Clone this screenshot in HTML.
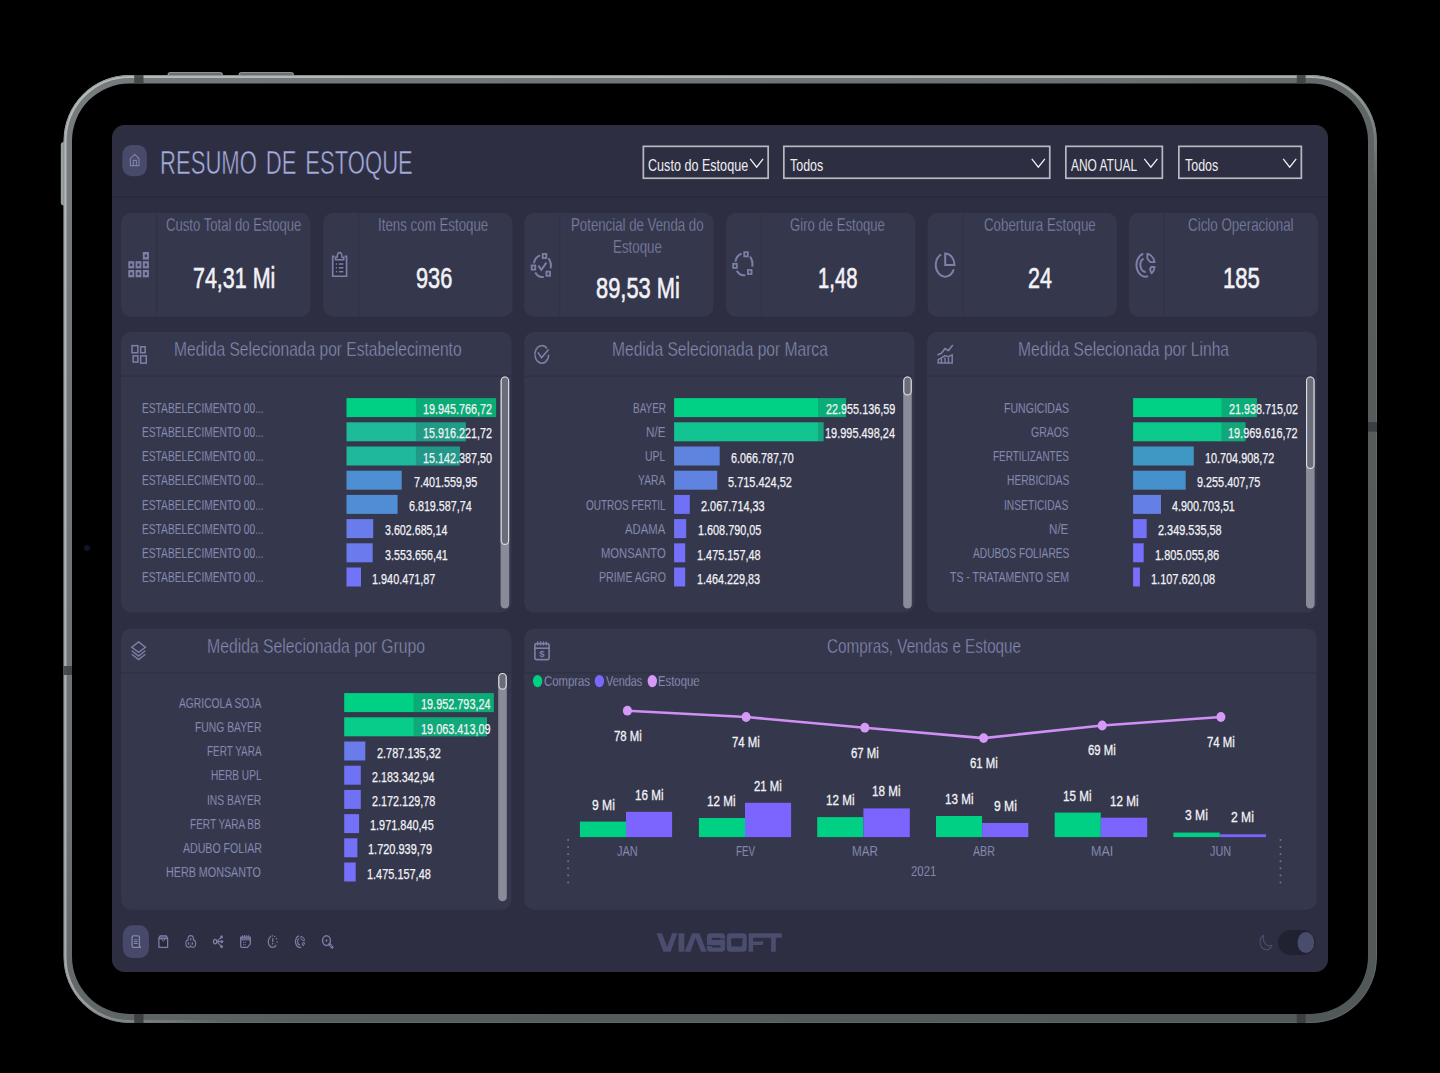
<!DOCTYPE html>
<html><head><meta charset="utf-8"><title>Resumo de Estoque</title>
<style>
html,body{margin:0;padding:0;background:#000;}
body{width:1440px;height:1073px;position:relative;overflow:hidden;font-family:"Liberation Sans",sans-serif;}
.a{position:absolute;}
.t{position:absolute;white-space:pre;font-family:"Liberation Sans",sans-serif;transform-origin:0 0;}
.card{position:absolute;background:#35374c;border-radius:10px;}
.bar{position:absolute;height:19px;}
.lb{position:absolute;height:19px;background:rgba(45,47,66,0.22);}
svg{position:absolute;overflow:visible;}
</style></head><body>
<svg width="1440" height="1073" style="left:0;top:0" viewBox="0 0 1440 1073">
<defs>
<linearGradient id="fg" x1="0" y1="0" x2="1" y2="1">
<stop offset="0" stop-color="#767c7d"/><stop offset="0.4" stop-color="#6c7273"/><stop offset="0.6" stop-color="#575c5d"/><stop offset="1" stop-color="#525758"/>
</linearGradient>
<linearGradient id="hl" x1="0" y1="0" x2="1" y2="1">
<stop offset="0" stop-color="#b6babb" stop-opacity="1"/><stop offset="0.48" stop-color="#b0b4b5" stop-opacity="0.9"/><stop offset="0.56" stop-color="#b0b4b5" stop-opacity="0"/><stop offset="1" stop-color="#b0b4b5" stop-opacity="0"/>
</linearGradient>
<clipPath id="ring"><path clip-rule="evenodd" d="M129.5,75H1311A66,66 0 0 1 1377,141V957A66,66 0 0 1 1311,1023H129.5A66,66 0 0 1 63.5,957V141A66,66 0 0 1 129.5,75Z M129.5,83.5A57.5,57.5 0 0 0 72,141V956.5A57.5,57.5 0 0 0 129.5,1014H1310.5A57.5,57.5 0 0 0 1368,956.5V141A57.5,57.5 0 0 0 1310.5,83.5Z"/></clipPath>
</defs>
<!-- side buttons -->
<rect x="167.5" y="72" width="55.5" height="6" rx="3" fill="#8e9495"/>
<rect x="238.5" y="72" width="55.5" height="6" rx="3" fill="#8e9495"/>
<rect x="169" y="73.2" width="52.5" height="1.6" rx="0.8" fill="#5f6566"/>
<rect x="240" y="73.2" width="52.5" height="1.6" rx="0.8" fill="#5f6566"/>
<rect x="60.8" y="142" width="6" height="63.5" rx="3" fill="#9aa0a1"/>
<path fill="url(#fg)" fill-rule="evenodd" d="M129.5,75H1311A66,66 0 0 1 1377,141V957A66,66 0 0 1 1311,1023H129.5A66,66 0 0 1 63.5,957V141A66,66 0 0 1 129.5,75Z M129.5,83.5A57.5,57.5 0 0 0 72,141V956.5A57.5,57.5 0 0 0 129.5,1014H1310.5A57.5,57.5 0 0 0 1368,956.5V141A57.5,57.5 0 0 0 1310.5,83.5Z"/>
<g clip-path="url(#ring)">
<rect x="65" y="76.5" width="1310.5" height="945" rx="64.5" fill="none" stroke="url(#hl)" stroke-width="3"/>
<rect x="64" y="75.5" width="1312.5" height="947" rx="65.5" fill="none" stroke="#707475" stroke-opacity="0.55" stroke-width="1"/>
<!-- antenna bands -->
<rect x="134.2" y="74" width="9.3" height="11" fill="#3e4243" opacity="0.92"/>
<rect x="1296.8" y="74" width="8.8" height="11" fill="#3e4243" opacity="0.92"/>
<rect x="134.2" y="1013" width="9.3" height="11" fill="#3a3e3f" opacity="0.95"/>
<rect x="1296.8" y="1013" width="8.8" height="11" fill="#3a3e3f" opacity="0.95"/>
<rect x="62" y="666" width="11" height="9" fill="#3e4243" opacity="0.9"/>
<rect x="1367" y="422" width="11" height="9.7" fill="#3a3e3f" opacity="0.95"/>
</g>
<circle cx="87" cy="548" r="3.2" fill="#0b111d"/>
<circle cx="87" cy="548" r="1.5" fill="#121c30"/>
</svg><svg width="1440" height="1073" style="left:0;top:0" viewBox="0 0 1440 1073">
<rect x="112.00" y="125.00" width="1216.00" height="847.00" rx="12.5" fill="#2d2e41"/>
<rect x="112.00" y="196.30" width="1216.00" height="1.50" fill="#292a3b"/>
<rect x="122.3" y="144.9" width="24.6" height="31.3" rx="9" ry="10" fill="#484a6a"/>
<rect x="643.35" y="146.35" width="124.80" height="31.90" fill="none" stroke="#b9b9c3" stroke-width="1.7"/>
<rect x="783.85" y="146.35" width="265.90" height="31.90" fill="none" stroke="#b9b9c3" stroke-width="1.7"/>
<rect x="1065.85" y="146.35" width="96.50" height="31.90" fill="none" stroke="#b9b9c3" stroke-width="1.7"/>
<rect x="1178.85" y="146.35" width="122.50" height="31.90" fill="none" stroke="#b9b9c3" stroke-width="1.7"/>
<rect x="121.20" y="212.70" width="189.40" height="104.00" rx="10" fill="#35374c"/>
<rect x="156.20" y="212.70" width="1.00" height="104.00" fill="#303246"/>
<rect x="323.20" y="212.70" width="189.40" height="104.00" rx="10" fill="#35374c"/>
<rect x="358.20" y="212.70" width="1.00" height="104.00" fill="#303246"/>
<rect x="524.20" y="212.70" width="189.40" height="104.00" rx="10" fill="#35374c"/>
<rect x="559.20" y="212.70" width="1.00" height="104.00" fill="#303246"/>
<rect x="726.00" y="212.70" width="189.40" height="104.00" rx="10" fill="#35374c"/>
<rect x="761.00" y="212.70" width="1.00" height="104.00" fill="#303246"/>
<rect x="927.60" y="212.70" width="189.40" height="104.00" rx="10" fill="#35374c"/>
<rect x="962.60" y="212.70" width="1.00" height="104.00" fill="#303246"/>
<rect x="1128.80" y="212.70" width="189.40" height="104.00" rx="10" fill="#35374c"/>
<rect x="1163.80" y="212.70" width="1.00" height="104.00" fill="#303246"/>
<rect x="121.20" y="331.80" width="390.30" height="280.70" rx="10" fill="#35374c"/><rect x="121.20" y="375.50" width="390.30" height="1.50" fill="#2f3145"/>
<rect x="524.20" y="331.80" width="390.30" height="280.70" rx="10" fill="#35374c"/><rect x="524.20" y="375.50" width="390.30" height="1.50" fill="#2f3145"/>
<rect x="927.20" y="331.80" width="389.50" height="280.70" rx="10" fill="#35374c"/><rect x="927.20" y="375.50" width="389.50" height="1.50" fill="#2f3145"/>
<rect x="121.20" y="628.40" width="390.30" height="281.30" rx="10" fill="#35374c"/><rect x="121.20" y="672.00" width="390.30" height="1.50" fill="#2f3145"/>
<rect x="524.20" y="628.40" width="792.40" height="281.30" rx="10" fill="#35374c"/><rect x="524.20" y="672.00" width="792.40" height="1.50" fill="#2f3145"/>
<rect x="346.50" y="398.10" width="149.60" height="19.00" fill="#00d084"/>
<rect x="415.90" y="398.10" width="80.20" height="19.00" fill="rgb(45,47,66)" fill-opacity="0.22"/>
<rect x="346.50" y="422.30" width="119.40" height="19.00" fill="#1dbb99"/>
<rect x="415.90" y="422.30" width="50.00" height="19.00" fill="rgb(45,47,66)" fill-opacity="0.22"/>
<rect x="346.50" y="446.50" width="113.40" height="19.00" fill="#1fb89d"/>
<rect x="415.90" y="446.50" width="44.00" height="19.00" fill="rgb(45,47,66)" fill-opacity="0.22"/>
<rect x="346.50" y="470.70" width="55.20" height="19.00" fill="#4e8fd3"/>
<rect x="346.50" y="494.90" width="51.10" height="19.00" fill="#508dd5"/>
<rect x="346.50" y="519.10" width="26.70" height="19.00" fill="#6a7bec"/>
<rect x="346.50" y="543.30" width="26.20" height="19.00" fill="#6b7aed"/>
<rect x="346.50" y="567.50" width="14.50" height="19.00" fill="#7173f8"/>
<rect x="674.10" y="398.10" width="171.90" height="19.00" fill="#00d184"/>
<rect x="818.00" y="398.10" width="28.00" height="19.00" fill="rgb(45,47,66)" fill-opacity="0.22"/>
<rect x="674.10" y="422.30" width="149.50" height="19.00" fill="#12c48f"/>
<rect x="818.00" y="422.30" width="5.60" height="19.00" fill="rgb(45,47,66)" fill-opacity="0.22"/>
<rect x="674.10" y="446.50" width="45.60" height="19.00" fill="#5f84e0"/>
<rect x="674.10" y="470.70" width="43.10" height="19.00" fill="#6083e1"/>
<rect x="674.10" y="494.90" width="15.70" height="19.00" fill="#7071f6"/>
<rect x="674.10" y="519.10" width="12.10" height="19.00" fill="#7370f8"/>
<rect x="674.10" y="543.30" width="11.10" height="19.00" fill="#7470f9"/>
<rect x="674.10" y="567.50" width="11.10" height="19.00" fill="#7470f9"/>
<rect x="1133.10" y="398.10" width="123.80" height="19.00" fill="#00d184"/>
<rect x="1221.50" y="398.10" width="35.40" height="19.00" fill="rgb(45,47,66)" fill-opacity="0.22"/>
<rect x="1133.10" y="422.30" width="112.40" height="19.00" fill="#0bca8c"/>
<rect x="1221.50" y="422.30" width="24.00" height="19.00" fill="rgb(45,47,66)" fill-opacity="0.22"/>
<rect x="1133.10" y="446.50" width="60.70" height="19.00" fill="#3f98c4"/>
<rect x="1133.10" y="470.70" width="52.60" height="19.00" fill="#4691cc"/>
<rect x="1133.10" y="494.90" width="27.90" height="19.00" fill="#647fe6"/>
<rect x="1133.10" y="519.10" width="13.60" height="19.00" fill="#7271f7"/>
<rect x="1133.10" y="543.30" width="10.60" height="19.00" fill="#7570fa"/>
<rect x="1133.10" y="567.50" width="6.80" height="19.00" fill="#7a6efc"/>
<rect x="344.20" y="693.10" width="149.60" height="19.00" fill="#00d084"/>
<rect x="413.60" y="693.10" width="80.20" height="19.00" fill="rgb(45,47,66)" fill-opacity="0.22"/>
<rect x="344.20" y="717.30" width="142.80" height="19.00" fill="#08cc89"/>
<rect x="413.60" y="717.30" width="73.40" height="19.00" fill="rgb(45,47,66)" fill-opacity="0.22"/>
<rect x="344.20" y="741.50" width="21.10" height="19.00" fill="#6a7bec"/>
<rect x="344.20" y="765.70" width="16.60" height="19.00" fill="#7072f5"/>
<rect x="344.20" y="789.90" width="16.60" height="19.00" fill="#7072f5"/>
<rect x="344.20" y="814.10" width="14.90" height="19.00" fill="#7271f7"/>
<rect x="344.20" y="838.30" width="13.20" height="19.00" fill="#7470f9"/>
<rect x="344.20" y="862.50" width="11.50" height="19.00" fill="#766ffb"/>
<rect x="500.60" y="376.40" width="8.60" height="232.20" rx="4.3" fill="#8a8b99"/><rect x="501.20" y="377.00" width="7.40" height="167.40" rx="3.7" fill="#6b6c79" stroke="#dcdce2" stroke-width="1.15"/>
<rect x="903.20" y="376.40" width="8.60" height="232.20" rx="4.3" fill="#8a8b99"/><rect x="903.80" y="377.00" width="7.40" height="17.90" rx="3.7" fill="#6b6c79" stroke="#dcdce2" stroke-width="1.15"/>
<rect x="1306.00" y="376.40" width="8.60" height="232.20" rx="4.3" fill="#8a8b99"/><rect x="1306.60" y="377.00" width="7.40" height="91.40" rx="3.7" fill="#6b6c79" stroke="#dcdce2" stroke-width="1.15"/>
<rect x="498.20" y="672.90" width="8.60" height="228.30" rx="4.3" fill="#8a8b99"/><rect x="498.80" y="673.50" width="7.40" height="15.60" rx="3.7" fill="#6b6c79" stroke="#dcdce2" stroke-width="1.15"/>
<rect x="579.90" y="821.60" width="46.10" height="15.50" fill="#00d084"/>
<rect x="626.00" y="811.80" width="46.10" height="25.30" fill="#7c64ff"/>
<rect x="698.90" y="818.00" width="46.10" height="19.10" fill="#00d084"/>
<rect x="745.00" y="802.80" width="46.10" height="34.30" fill="#7c64ff"/>
<rect x="817.20" y="817.10" width="46.20" height="20.00" fill="#00d084"/>
<rect x="863.40" y="808.40" width="46.40" height="28.70" fill="#7c64ff"/>
<rect x="936.00" y="816.00" width="46.10" height="21.10" fill="#00d084"/>
<rect x="982.10" y="823.00" width="46.20" height="14.10" fill="#7c64ff"/>
<rect x="1054.70" y="812.60" width="46.10" height="24.50" fill="#00d084"/>
<rect x="1100.80" y="817.70" width="46.40" height="19.40" fill="#7c64ff"/>
<rect x="1173.40" y="832.60" width="46.40" height="4.50" fill="#00d084"/>
<rect x="1219.80" y="834.30" width="46.10" height="2.80" fill="#7c64ff"/>
<polyline points="627.4,710.7 746.1,717 864.8,727.7 983.6,738.1 1102.2,725.5 1220.9,717" fill="none" stroke="#d08ff5" stroke-width="2.6" stroke-linejoin="round"/><ellipse cx="627.4" cy="710.7" rx="4.5" ry="4.9" fill="#d59af7"/><ellipse cx="746.1" cy="717" rx="4.5" ry="4.9" fill="#d59af7"/><ellipse cx="864.8" cy="727.7" rx="4.5" ry="4.9" fill="#d59af7"/><ellipse cx="983.6" cy="738.1" rx="4.5" ry="4.9" fill="#d59af7"/><ellipse cx="1102.2" cy="725.5" rx="4.5" ry="4.9" fill="#d59af7"/><ellipse cx="1220.9" cy="717" rx="4.5" ry="4.9" fill="#d59af7"/><ellipse cx="537.6" cy="681.1" rx="4.7" ry="6.2" fill="#00d084"/><ellipse cx="599.4" cy="681.1" rx="4.7" ry="6.2" fill="#7b68ff"/><ellipse cx="652.3" cy="681.1" rx="4.7" ry="6.2" fill="#d59af7"/><rect x="567.25" y="839.1" width="1.7" height="1.7" fill="#70749a"/><rect x="567.25" y="846.2" width="1.7" height="1.7" fill="#70749a"/><rect x="567.25" y="853.3" width="1.7" height="1.7" fill="#70749a"/><rect x="567.25" y="860.4" width="1.7" height="1.7" fill="#70749a"/><rect x="567.25" y="867.5" width="1.7" height="1.7" fill="#70749a"/><rect x="567.25" y="874.5" width="1.7" height="1.7" fill="#70749a"/><rect x="567.25" y="881.6" width="1.7" height="1.7" fill="#70749a"/><rect x="1279.65" y="839.1" width="1.7" height="1.7" fill="#70749a"/><rect x="1279.65" y="846.2" width="1.7" height="1.7" fill="#70749a"/><rect x="1279.65" y="853.3" width="1.7" height="1.7" fill="#70749a"/><rect x="1279.65" y="860.4" width="1.7" height="1.7" fill="#70749a"/><rect x="1279.65" y="867.5" width="1.7" height="1.7" fill="#70749a"/><rect x="1279.65" y="874.5" width="1.7" height="1.7" fill="#70749a"/><rect x="1279.65" y="881.6" width="1.7" height="1.7" fill="#70749a"/>
<rect x="122.8" y="925.3" width="26.2" height="32.7" rx="9" ry="10.5" fill="#47496a"/>
<rect x="1278.00" y="930.10" width="37.30" height="24.80" rx="12.4" fill="#212231"/>
<ellipse cx="1305.9" cy="942.5" rx="8.4" ry="10.5" fill="#4a4c6c"/>
</svg>
<svg width="1440" height="1073" style="left:0;top:0" viewBox="0 0 1440 1073"><path d="M130.40,165.60 L130.40,158.50 L134.70,154.30 L139.00,158.50 L139.00,165.60Z" fill="none" stroke="#7e81a8" stroke-width="1.15" stroke-linejoin="miter" stroke-linecap="butt"/><path d="M133.30,165.60 L133.30,160.40 L136.40,160.40 L136.40,165.60" fill="none" stroke="#7e81a8" stroke-width="1.15" stroke-linejoin="miter" stroke-linecap="butt"/><path d="M750.20,158.90 L756.65,167.20 L763.10,158.90" fill="none" stroke="#f0f0f5" stroke-width="1.3" stroke-linejoin="miter" stroke-linecap="butt"/><path d="M1031.80,158.90 L1038.35,167.20 L1044.90,158.90" fill="none" stroke="#f0f0f5" stroke-width="1.3" stroke-linejoin="miter" stroke-linecap="butt"/><path d="M1144.30,158.90 L1150.85,167.20 L1157.40,158.90" fill="none" stroke="#f0f0f5" stroke-width="1.3" stroke-linejoin="miter" stroke-linecap="butt"/><path d="M1283.20,158.90 L1289.70,167.20 L1296.20,158.90" fill="none" stroke="#f0f0f5" stroke-width="1.3" stroke-linejoin="miter" stroke-linecap="butt"/><rect x="142.8" y="252.0" width="6.10" height="7.60" fill="#7d80a6"/><rect x="144.80" y="254.50" width="2.1" height="2.6" fill="#33354a"/><rect x="128.3" y="261.2" width="5.90" height="7.20" fill="#7d80a6"/><rect x="130.20" y="263.50" width="2.1" height="2.6" fill="#33354a"/><rect x="135.6" y="261.2" width="5.80" height="7.20" fill="#7d80a6"/><rect x="137.45" y="263.50" width="2.1" height="2.6" fill="#33354a"/><rect x="142.8" y="261.2" width="6.10" height="7.20" fill="#7d80a6"/><rect x="144.80" y="263.50" width="2.1" height="2.6" fill="#33354a"/><rect x="128.3" y="270.0" width="5.90" height="7.30" fill="#7d80a6"/><rect x="130.20" y="272.35" width="2.1" height="2.6" fill="#33354a"/><rect x="135.6" y="270.0" width="5.80" height="7.30" fill="#7d80a6"/><rect x="137.45" y="272.35" width="2.1" height="2.6" fill="#33354a"/><rect x="142.8" y="270.0" width="6.10" height="7.30" fill="#7d80a6"/><rect x="144.80" y="272.35" width="2.1" height="2.6" fill="#33354a"/><rect x="334.1" y="261.2" width="10.9" height="13.4" fill="#2c2d41"/><path d="M334.60,256.40 L332.70,256.40 L332.70,276.20 L346.60,276.20 L346.60,256.40 L344.60,256.40" fill="none" stroke="#7d80a6" stroke-width="1.6" stroke-linejoin="miter" stroke-linecap="butt"/><path d="M335.5,259.8H343.7V257.3H342.0C342.0,253.6 341.3,252.4 339.6,252.4C337.9,252.4 337.2,253.6 337.2,257.3H335.5Z" fill="none" stroke="#7d80a6" stroke-width="1.5" stroke-linejoin="round"/><rect x="339.1" y="254.2" width="1.0" height="3.6" fill="#2c2d41"/><rect x="335.8" y="263.25" width="1.3" height="1.5" fill="#7d80a6"/><rect x="338.8" y="263.25" width="4.6" height="1.5" fill="#7d80a6"/><rect x="335.8" y="267.05" width="1.3" height="1.5" fill="#7d80a6"/><rect x="338.8" y="267.05" width="4.6" height="1.5" fill="#7d80a6"/><rect x="335.8" y="270.95" width="1.3" height="1.5" fill="#7d80a6"/><rect x="338.8" y="270.95" width="4.6" height="1.5" fill="#7d80a6"/><path d="M533.86,263.34A8.65,11.0 0 0 1 540.16,255.33" fill="none" stroke="#7d80a6" stroke-width="2.0" stroke-linecap="butt"/><path d="M548.47,258.36A8.65,11.0 0 0 1 550.71,268.29" fill="none" stroke="#7d80a6" stroke-width="2.0" stroke-linecap="butt"/><path d="M543.75,276.83A8.65,11.0 0 0 1 535.25,272.47" fill="none" stroke="#7d80a6" stroke-width="2.0" stroke-linecap="butt"/><rect x="542.70" y="253.95" width="3.60" height="4.10" fill="none" stroke="#7d80a6" stroke-width="1.8"/><rect x="531.65" y="265.50" width="3.60" height="4.10" fill="none" stroke="#7d80a6" stroke-width="1.8"/><rect x="546.40" y="271.65" width="3.60" height="4.10" fill="none" stroke="#7d80a6" stroke-width="1.8"/><path d="M538.35,265.60 L541.35,269.80 L546.45,262.60" fill="none" stroke="#7d80a6" stroke-width="1.9" stroke-linejoin="miter" stroke-linecap="butt"/><path d="M735.41,261.64A8.65,11.0 0 0 1 741.71,253.63" fill="none" stroke="#7d80a6" stroke-width="2.0" stroke-linecap="butt"/><path d="M750.02,256.66A8.65,11.0 0 0 1 752.26,266.59" fill="none" stroke="#7d80a6" stroke-width="2.0" stroke-linecap="butt"/><path d="M745.30,275.13A8.65,11.0 0 0 1 736.80,270.77" fill="none" stroke="#7d80a6" stroke-width="2.0" stroke-linecap="butt"/><rect x="744.25" y="252.25" width="3.60" height="4.10" fill="none" stroke="#7d80a6" stroke-width="1.8"/><rect x="733.20" y="263.80" width="3.60" height="4.10" fill="none" stroke="#7d80a6" stroke-width="1.8"/><rect x="747.95" y="269.95" width="3.60" height="4.10" fill="none" stroke="#7d80a6" stroke-width="1.8"/><path d="M953.72,269.35A9.3,11.6 0 1 1 941.17,254.49" fill="none" stroke="#7d80a6" stroke-width="2.0" stroke-linecap="butt"/><path d="M945.2,253.4V265.0H954.5A9.3,11.6 0 0 0 945.2,253.4Z" fill="none" stroke="#7d80a6" stroke-width="2" stroke-linejoin="miter"/><path d="M1148.08,276.15A9.0,11.6 0 1 1 1143.27,253.80" fill="none" stroke="#7d80a6" stroke-width="2.0" stroke-linecap="butt"/><path d="M1145.78,271.90A5.2,6.9 0 0 1 1143.57,258.65" fill="none" stroke="#7d80a6" stroke-width="2.0" stroke-linecap="butt"/><path d="M1147.30,253.60 L1147.30,258.40 L1150.30,262.20 L1154.60,262.20 L1153.60,258.80 L1150.80,255.30Z" fill="none" stroke="#7d80a6" stroke-width="1.8" stroke-linejoin="round" stroke-linecap="butt"/><path d="M1150.00,269.30 L1151.10,267.00 L1154.60,267.00 L1153.70,270.60 L1151.60,273.40Z" fill="none" stroke="#7d80a6" stroke-width="1.8" stroke-linejoin="round" stroke-linecap="butt"/><rect x="132.05" y="345.65" width="5.80" height="7.10" fill="none" stroke="#7d80a6" stroke-width="1.5"/><rect x="140.65" y="346.75" width="4.50" height="6.00" fill="none" stroke="#7d80a6" stroke-width="1.5"/><rect x="133.15" y="355.85" width="4.70" height="6.20" fill="none" stroke="#7d80a6" stroke-width="1.5"/><rect x="140.65" y="355.85" width="5.60" height="7.30" fill="none" stroke="#7d80a6" stroke-width="1.5"/><path d="M548.70,354.71A6.9,8.8 0 1 1 546.93,348.51" fill="none" stroke="#7d80a6" stroke-width="1.5" stroke-linecap="butt"/><path d="M537.80,352.40 L541.60,357.60 L548.60,349.50" fill="none" stroke="#7d80a6" stroke-width="1.6" stroke-linejoin="miter" stroke-linecap="butt"/><path d="M938.00,354.70 L941.40,353.30 L945.00,348.50 L948.30,350.70 L952.40,345.50" fill="none" stroke="#7d80a6" stroke-width="1.6" stroke-linejoin="round" stroke-linecap="round"/><path d="M938.20,363.00 L938.20,359.60 L941.20,358.10 L944.90,355.60 L948.40,356.60 L952.20,354.90 L952.20,363.00Z" fill="none" stroke="#7d80a6" stroke-width="1.5" stroke-linejoin="miter" stroke-linecap="butt"/><path d="M941.40,357.50 L941.40,363.00" fill="none" stroke="#7d80a6" stroke-width="1.4" stroke-linejoin="miter" stroke-linecap="butt"/><path d="M945.00,357.50 L945.00,363.00" fill="none" stroke="#7d80a6" stroke-width="1.4" stroke-linejoin="miter" stroke-linecap="butt"/><path d="M948.50,357.50 L948.50,363.00" fill="none" stroke="#7d80a6" stroke-width="1.4" stroke-linejoin="miter" stroke-linecap="butt"/><path d="M138.60,641.90 L145.40,647.30 L138.60,652.40 L131.80,647.30Z" fill="none" stroke="#7d80a6" stroke-width="1.4" stroke-linejoin="miter" stroke-linecap="butt"/><path d="M131.80,650.80 L138.60,656.00 L145.40,650.80" fill="none" stroke="#7d80a6" stroke-width="1.4" stroke-linejoin="miter" stroke-linecap="butt"/><path d="M131.80,654.30 L138.60,659.50 L145.40,654.30" fill="none" stroke="#7d80a6" stroke-width="1.4" stroke-linejoin="miter" stroke-linecap="butt"/><rect x="534.9" y="643.6" width="14.2" height="16.0" rx="1.8" fill="none" stroke="#7d80a6" stroke-width="1.6"/><path d="M534.90,648.20 L549.10,648.20" fill="none" stroke="#7d80a6" stroke-width="1.6" stroke-linejoin="miter" stroke-linecap="butt"/><path d="M537.60,641.40 L537.60,645.60" fill="none" stroke="#7d80a6" stroke-width="1.3" stroke-linejoin="miter" stroke-linecap="butt"/><path d="M540.50,641.40 L540.50,645.60" fill="none" stroke="#7d80a6" stroke-width="1.3" stroke-linejoin="miter" stroke-linecap="butt"/><path d="M543.40,641.40 L543.40,645.60" fill="none" stroke="#7d80a6" stroke-width="1.3" stroke-linejoin="miter" stroke-linecap="butt"/><path d="M546.30,641.40 L546.30,645.60" fill="none" stroke="#7d80a6" stroke-width="1.3" stroke-linejoin="miter" stroke-linecap="butt"/><text x="541.9" y="657.4" font-family="Liberation Sans, sans-serif" font-size="9.5" font-weight="bold" text-anchor="middle" fill="#7d80a6">$</text><path d="M132.1,937.2Q132.1,935.9 133.4,935.9H138.1Q139.4,935.9 139.4,937.2V946.0L140.4,947.4H133.4Q132.1,947.4 132.1,946.1Z" fill="#3d3f5c" stroke="#8487ae" stroke-width="1.35" stroke-linejoin="round"/><path d="M133.80,939.40 L137.70,939.40" fill="none" stroke="#6f7298" stroke-width="1.0" stroke-linejoin="miter" stroke-linecap="butt"/><path d="M133.80,941.30 L137.70,941.30" fill="none" stroke="#8487ae" stroke-width="1.15" stroke-linejoin="miter" stroke-linecap="butt"/><path d="M133.80,943.40 L137.70,943.40" fill="none" stroke="#8487ae" stroke-width="1.15" stroke-linejoin="miter" stroke-linecap="butt"/><path d="M158.9,938.4L160.2,935.8H166.3L167.6,938.4V947.3H158.9Z" fill="#272839" stroke="#7b7ea6" stroke-width="1.3" stroke-linejoin="round"/><path d="M158.9,938.4L160.2,935.8H166.3L167.6,938.4Z" fill="#7b7ea6" fill-opacity="0.55"/><path d="M158.90,938.60 L167.60,938.60" fill="none" stroke="#7b7ea6" stroke-width="1.2" stroke-linejoin="miter" stroke-linecap="butt"/><path d="M161.90,938.60 L161.90,940.00 L163.30,941.30 L164.70,940.00 L164.70,938.60" fill="none" stroke="#7b7ea6" stroke-width="1.0" stroke-linejoin="round" stroke-linecap="butt"/><ellipse cx="190.7" cy="939.4" rx="3.3" ry="4.35" fill="#7b7ea6"/><ellipse cx="188.6" cy="943.6" rx="3.3" ry="4.35" fill="#7b7ea6"/><ellipse cx="192.9" cy="943.6" rx="3.3" ry="4.35" fill="#7b7ea6"/><ellipse cx="190.7" cy="939.4" rx="2.15" ry="3.2" fill="#2d2e41"/><ellipse cx="188.6" cy="943.6" rx="2.15" ry="3.2" fill="#2d2e41"/><ellipse cx="192.9" cy="943.6" rx="2.15" ry="3.2" fill="#2d2e41"/><rect x="190.1" y="938.0" width="1.2" height="2.5" fill="#7b7ea6"/><rect x="187.9" y="942.3" width="1.3" height="2.4" fill="#7b7ea6"/><rect x="191.7" y="942.3" width="1.3" height="2.4" fill="#7b7ea6"/><ellipse cx="215.1" cy="941.6" rx="1.6" ry="2.2" fill="none" stroke="#7b7ea6" stroke-width="1.3"/><path d="M216.90,941.60 L221.60,936.90" fill="none" stroke="#7b7ea6" stroke-width="1.15" stroke-linejoin="miter" stroke-linecap="butt"/><ellipse cx="221.6" cy="936.9" rx="1.4" ry="1.7" fill="#7b7ea6"/><path d="M216.90,941.60 L221.90,941.60" fill="none" stroke="#7b7ea6" stroke-width="1.15" stroke-linejoin="miter" stroke-linecap="butt"/><ellipse cx="221.9" cy="941.6" rx="1.4" ry="1.7" fill="#7b7ea6"/><path d="M216.90,941.60 L221.60,946.60" fill="none" stroke="#7b7ea6" stroke-width="1.15" stroke-linejoin="miter" stroke-linecap="butt"/><ellipse cx="221.6" cy="946.6" rx="1.4" ry="1.7" fill="#7b7ea6"/><path d="M240.7,937.2H250.3V943.9L247.4,947.3H241.9Q240.7,947.3 240.7,946.1Z" fill="#272839" stroke="#7b7ea6" stroke-width="1.3" stroke-linejoin="round"/><rect x="240.7" y="937.2" width="9.6" height="3.3" fill="#7b7ea6" fill-opacity="0.75"/><path d="M242.60,935.20 L242.60,937.20" fill="none" stroke="#7b7ea6" stroke-width="1.0" stroke-linejoin="miter" stroke-linecap="butt"/><path d="M244.50,935.20 L244.50,937.20" fill="none" stroke="#7b7ea6" stroke-width="1.0" stroke-linejoin="miter" stroke-linecap="butt"/><path d="M246.40,935.20 L246.40,937.20" fill="none" stroke="#7b7ea6" stroke-width="1.0" stroke-linejoin="miter" stroke-linecap="butt"/><path d="M248.30,935.20 L248.30,937.20" fill="none" stroke="#7b7ea6" stroke-width="1.0" stroke-linejoin="miter" stroke-linecap="butt"/><rect x="243.2" y="941.8" width="1.0" height="1.2" fill="#7b7ea6"/><rect x="244.8" y="941.8" width="1.0" height="1.2" fill="#7b7ea6"/><rect x="243.2" y="944.1999999999999" width="1.0" height="1.2" fill="#7b7ea6"/><rect x="244.8" y="944.1999999999999" width="1.0" height="1.2" fill="#7b7ea6"/><path d="M276.17,945.17A4.4,5.8 0 1 1 271.05,936.22" fill="none" stroke="#7b7ea6" stroke-width="1.25" stroke-linecap="butt"/><path d="M272.70,938.30 L272.70,941.90" fill="none" stroke="#7b7ea6" stroke-width="1.25" stroke-linejoin="miter" stroke-linecap="butt"/><rect x="272.05" y="943.0" width="1.3" height="1.4" fill="#7b7ea6"/><rect x="271.64" y="935.18" width="1.2" height="1.3" fill="#7b7ea6"/><rect x="274.17" y="935.83" width="1.2" height="1.3" fill="#7b7ea6"/><rect x="275.91" y="938.05" width="1.2" height="1.3" fill="#7b7ea6"/><rect x="276.48" y="941.46" width="1.2" height="1.3" fill="#7b7ea6"/><path d="M301.35,947.22A4.55,5.85 0 1 1 298.92,935.95" fill="none" stroke="#7b7ea6" stroke-width="1.25" stroke-linecap="butt"/><path d="M300.19,944.90A2.5,3.3 0 0 1 299.12,938.56" fill="none" stroke="#7b7ea6" stroke-width="1.1" stroke-linecap="butt"/><path d="M301.00,936.20 L301.00,938.50 L302.40,940.40 L304.50,940.40 L304.00,938.70 L302.70,937.00Z" fill="none" stroke="#7b7ea6" stroke-width="1.0" stroke-linejoin="round" stroke-linecap="butt"/><path d="M302.30,943.80 L302.80,942.60 L304.50,942.60 L304.10,944.40 L303.10,945.90Z" fill="none" stroke="#7b7ea6" stroke-width="1.0" stroke-linejoin="round" stroke-linecap="butt"/><ellipse cx="326.5" cy="940.6" rx="3.9" ry="4.85" fill="none" stroke="#7b7ea6" stroke-width="1.35"/><path d="M326.5,939.0L327.6,940.6L326.5,942.2L325.4,940.6Z" fill="#7b7ea6"/><path d="M329.40,944.20 L332.30,947.40" fill="none" stroke="#7b7ea6" stroke-width="2.6" stroke-linejoin="miter" stroke-linecap="round"/><path d="M330.40,945.30 L331.50,946.50" fill="none" stroke="#2d2e41" stroke-width="0.8" stroke-linejoin="miter" stroke-linecap="round"/><path d="M656.6,933.2H662.0L667.1,946.7L672.2,933.2H677.3L670.7,951.7H663.4Z" fill="#4a4d6d"/><rect x="678.5" y="933.2" width="5.8" height="18.5" fill="#4a4d6d"/><path d="M684.6,951.7L692.1,933.2H699.4L706.7,951.7H701.1L695.6,937.7L690.4,951.7Z" fill="#4a4d6d"/><path fill-rule="evenodd" d="M710.4,933.2H721.6Q725.1,933.2 725.1,936.8V948.3Q725.1,951.7 721.6,951.7H710.4Q706.9,951.7 706.9,948.3V936.8Q706.9,933.2 710.4,933.2Z M711.7,937.8H720.2V938.6H725.3V939.6H720.2V939.9H711.7Z M706.7,945.0H711.7V945.3H720.5V947.4H711.7V946.0H706.7Z" fill="#4a4d6d"/><path fill-rule="evenodd" d="M730.3,933.2H743.2Q746.7,933.2 746.7,936.8V948.3Q746.7,951.7 743.2,951.7H730.3Q726.8,951.7 726.8,948.3V936.8Q726.8,933.2 730.3,933.2Z M732.2,938.2Q731.2,938.2 731.2,939.2V945.6Q731.2,946.6 732.2,946.6H740.9Q741.9,946.6 742.0,945.6L742.7,938.2Z" fill="#4a4d6d"/><path d="M748.7,933.2H781.9V937.7H775.8V951.7H771.1V937.7H753.1V941.4H763.6L762.4,944.9H753.1V951.7H748.7Z" fill="#4a4d6d"/><path d="M1263.6,935.3C1258.6,938.3 1258.9,947.6 1264.8,949.5C1268.3,950.6 1271.2,948.4 1271.8,945.2C1266.4,947.6 1262.0,941.9 1263.6,935.3Z" fill="none" stroke="#4b4e70" stroke-width="1.1" stroke-linejoin="round"/></svg><span class="t" style="left:160.26px;top:147px;font-size:32.5px;line-height:32.5px;color:#a7afe0;-webkit-text-stroke:0.6px #2d2e41;word-spacing:4px;transform:scaleX(0.6793)">RESUMO DE ESTOQUE</span>
<span class="t" style="left:648.04px;top:158px;font-size:16.6px;line-height:16.6px;color:#eeeef2;transform:scaleX(0.7592)">Custo do Estoque</span>
<span class="t" style="left:789.50px;top:158px;font-size:16.6px;line-height:16.6px;color:#eeeef2;transform:scaleX(0.7500)">Todos</span>
<span class="t" style="left:1070.80px;top:158px;font-size:16.6px;line-height:16.6px;color:#eeeef2;transform:scaleX(0.7196)">ANO ATUAL</span>
<span class="t" style="left:1185.00px;top:158px;font-size:16.6px;line-height:16.6px;color:#eeeef2;transform:scaleX(0.7500)">Todos</span>
<span class="t" style="left:165.77px;top:216px;font-size:18px;line-height:18px;color:#8287ad;-webkit-text-stroke:0.35px #35374c;transform:scaleX(0.7283)">Custo Total do Estoque</span>
<span class="t" style="left:378.02px;top:216px;font-size:18px;line-height:18px;color:#8287ad;-webkit-text-stroke:0.35px #35374c;transform:scaleX(0.7397)">Itens com Estoque</span>
<span class="t" style="left:570.53px;top:216px;font-size:18px;line-height:18px;color:#8287ad;-webkit-text-stroke:0.35px #35374c;transform:scaleX(0.7360)">Potencial de Venda do</span>
<span class="t" style="left:612.67px;top:238px;font-size:18px;line-height:18px;color:#8287ad;-webkit-text-stroke:0.35px #35374c;transform:scaleX(0.7413)">Estoque</span>
<span class="t" style="left:789.87px;top:216px;font-size:18px;line-height:18px;color:#8287ad;-webkit-text-stroke:0.35px #35374c;transform:scaleX(0.7297)">Giro de Estoque</span>
<span class="t" style="left:983.96px;top:216px;font-size:18px;line-height:18px;color:#8287ad;-webkit-text-stroke:0.35px #35374c;transform:scaleX(0.7396)">Cobertura Estoque</span>
<span class="t" style="left:1187.86px;top:216px;font-size:18px;line-height:18px;color:#8287ad;-webkit-text-stroke:0.35px #35374c;transform:scaleX(0.7429)">Ciclo Operacional</span>
<span class="t" style="left:192.90px;top:264px;font-size:28.6px;line-height:28.6px;color:#f2f2f6;-webkit-text-stroke:0.6px #f2f2f6;transform:scaleX(0.7505)">74,31 Mi</span>
<span class="t" style="left:415.54px;top:264px;font-size:28.6px;line-height:28.6px;color:#f2f2f6;-webkit-text-stroke:0.6px #f2f2f6;transform:scaleX(0.7609)">936</span>
<span class="t" style="left:595.84px;top:274px;font-size:28.6px;line-height:28.6px;color:#f2f2f6;-webkit-text-stroke:0.6px #f2f2f6;transform:scaleX(0.7645)">89,53 Mi</span>
<span class="t" style="left:818.48px;top:264px;font-size:28.6px;line-height:28.6px;color:#f2f2f6;-webkit-text-stroke:0.6px #f2f2f6;transform:scaleX(0.7094)">1,48</span>
<span class="t" style="left:1027.80px;top:264px;font-size:28.6px;line-height:28.6px;color:#f2f2f6;-webkit-text-stroke:0.6px #f2f2f6;transform:scaleX(0.7516)">24</span>
<span class="t" style="left:1222.55px;top:264px;font-size:28.6px;line-height:28.6px;color:#f2f2f6;-webkit-text-stroke:0.6px #f2f2f6;transform:scaleX(0.7733)">185</span>
<span class="t" style="left:174.46px;top:339px;font-size:20.3px;line-height:20.3px;color:#888db5;-webkit-text-stroke:0.4px #35374c;transform:scaleX(0.7682)">Medida Selecionada por Estabelecimento</span>
<span class="t" style="left:611.81px;top:339px;font-size:20.3px;line-height:20.3px;color:#888db5;-webkit-text-stroke:0.4px #35374c;transform:scaleX(0.7688)">Medida Selecionada por Marca</span>
<span class="t" style="left:1017.71px;top:339px;font-size:20.3px;line-height:20.3px;color:#888db5;-webkit-text-stroke:0.4px #35374c;transform:scaleX(0.7702)">Medida Selecionada por Linha</span>
<span class="t" style="left:206.75px;top:636px;font-size:20.3px;line-height:20.3px;color:#888db5;-webkit-text-stroke:0.4px #35374c;transform:scaleX(0.7770)">Medida Selecionada por Grupo</span>
<span class="t" style="left:826.65px;top:636px;font-size:20.3px;line-height:20.3px;color:#888db5;-webkit-text-stroke:0.4px #35374c;transform:scaleX(0.7516)">Compras, Vendas e Estoque</span>
<span class="t" style="left:142.00px;top:401px;font-size:14.7px;line-height:14.7px;color:#9da2cc;-webkit-text-stroke:0.3px #35374c;transform:scaleX(0.6954)">ESTABELECIMENTO 00...</span>
<span class="t" style="left:142.00px;top:425px;font-size:14.7px;line-height:14.7px;color:#9da2cc;-webkit-text-stroke:0.3px #35374c;transform:scaleX(0.6954)">ESTABELECIMENTO 00...</span>
<span class="t" style="left:142.00px;top:449px;font-size:14.7px;line-height:14.7px;color:#9da2cc;-webkit-text-stroke:0.3px #35374c;transform:scaleX(0.6954)">ESTABELECIMENTO 00...</span>
<span class="t" style="left:142.00px;top:473px;font-size:14.7px;line-height:14.7px;color:#9da2cc;-webkit-text-stroke:0.3px #35374c;transform:scaleX(0.6954)">ESTABELECIMENTO 00...</span>
<span class="t" style="left:142.00px;top:498px;font-size:14.7px;line-height:14.7px;color:#9da2cc;-webkit-text-stroke:0.3px #35374c;transform:scaleX(0.6954)">ESTABELECIMENTO 00...</span>
<span class="t" style="left:142.00px;top:522px;font-size:14.7px;line-height:14.7px;color:#9da2cc;-webkit-text-stroke:0.3px #35374c;transform:scaleX(0.6954)">ESTABELECIMENTO 00...</span>
<span class="t" style="left:142.00px;top:546px;font-size:14.7px;line-height:14.7px;color:#9da2cc;-webkit-text-stroke:0.3px #35374c;transform:scaleX(0.6954)">ESTABELECIMENTO 00...</span>
<span class="t" style="left:142.00px;top:570px;font-size:14.7px;line-height:14.7px;color:#9da2cc;-webkit-text-stroke:0.3px #35374c;transform:scaleX(0.6954)">ESTABELECIMENTO 00...</span>
<span class="t" style="left:423.16px;top:402px;font-size:14.7px;line-height:14.7px;color:#f2f2f6;-webkit-text-stroke:0.25px #f2f2f6;transform:scaleX(0.7355)">19.945.766,72</span>
<span class="t" style="left:423.16px;top:426px;font-size:14.7px;line-height:14.7px;color:#f2f2f6;-webkit-text-stroke:0.25px #f2f2f6;transform:scaleX(0.7355)">15.916.221,72</span>
<span class="t" style="left:423.16px;top:451px;font-size:14.7px;line-height:14.7px;color:#f2f2f6;-webkit-text-stroke:0.25px #f2f2f6;transform:scaleX(0.7355)">15.142.387,50</span>
<span class="t" style="left:413.60px;top:475px;font-size:14.7px;line-height:14.7px;color:#f2f2f6;-webkit-text-stroke:0.25px #f2f2f6;transform:scaleX(0.7365)">7.401.559,95</span>
<span class="t" style="left:409.00px;top:499px;font-size:14.7px;line-height:14.7px;color:#f2f2f6;-webkit-text-stroke:0.25px #f2f2f6;transform:scaleX(0.7302)">6.819.587,74</span>
<span class="t" style="left:385.10px;top:523px;font-size:14.7px;line-height:14.7px;color:#f2f2f6;-webkit-text-stroke:0.25px #f2f2f6;transform:scaleX(0.7279)">3.602.685,14</span>
<span class="t" style="left:384.60px;top:548px;font-size:14.7px;line-height:14.7px;color:#f2f2f6;-webkit-text-stroke:0.25px #f2f2f6;transform:scaleX(0.7329)">3.553.656,41</span>
<span class="t" style="left:372.46px;top:572px;font-size:14.7px;line-height:14.7px;color:#f2f2f6;-webkit-text-stroke:0.25px #f2f2f6;transform:scaleX(0.7393)">1.940.471,87</span>
<span class="t" style="left:632.82px;top:401px;font-size:14.7px;line-height:14.7px;color:#9da2cc;-webkit-text-stroke:0.3px #35374c;transform:scaleX(0.6787)">BAYER</span>
<span class="t" style="left:646.20px;top:425px;font-size:14.7px;line-height:14.7px;color:#9da2cc;-webkit-text-stroke:0.3px #35374c;transform:scaleX(0.8000)">N/E</span>
<span class="t" style="left:645.49px;top:449px;font-size:14.7px;line-height:14.7px;color:#9da2cc;-webkit-text-stroke:0.3px #35374c;transform:scaleX(0.7111)">UPL</span>
<span class="t" style="left:637.89px;top:473px;font-size:14.7px;line-height:14.7px;color:#9da2cc;-webkit-text-stroke:0.3px #35374c;transform:scaleX(0.7053)">YARA</span>
<span class="t" style="left:585.92px;top:498px;font-size:14.7px;line-height:14.7px;color:#9da2cc;-webkit-text-stroke:0.3px #35374c;transform:scaleX(0.6793)">OUTROS FERTIL</span>
<span class="t" style="left:625.40px;top:522px;font-size:14.7px;line-height:14.7px;color:#9da2cc;-webkit-text-stroke:0.3px #35374c;transform:scaleX(0.7692)">ADAMA</span>
<span class="t" style="left:601.24px;top:546px;font-size:14.7px;line-height:14.7px;color:#9da2cc;-webkit-text-stroke:0.3px #35374c;transform:scaleX(0.7639)">MONSANTO</span>
<span class="t" style="left:599.28px;top:570px;font-size:14.7px;line-height:14.7px;color:#9da2cc;-webkit-text-stroke:0.3px #35374c;transform:scaleX(0.7187)">PRIME AGRO</span>
<span class="t" style="left:825.70px;top:402px;font-size:14.7px;line-height:14.7px;color:#f2f2f6;-webkit-text-stroke:0.25px #f2f2f6;transform:scaleX(0.7372)">22.955.136,59</span>
<span class="t" style="left:824.95px;top:426px;font-size:14.7px;line-height:14.7px;color:#f2f2f6;-webkit-text-stroke:0.25px #f2f2f6;transform:scaleX(0.7452)">19.995.498,24</span>
<span class="t" style="left:731.10px;top:451px;font-size:14.7px;line-height:14.7px;color:#f2f2f6;-webkit-text-stroke:0.25px #f2f2f6;transform:scaleX(0.7326)">6.066.787,70</span>
<span class="t" style="left:727.85px;top:475px;font-size:14.7px;line-height:14.7px;color:#f2f2f6;-webkit-text-stroke:0.25px #f2f2f6;transform:scaleX(0.7452)">5.715.424,52</span>
<span class="t" style="left:700.90px;top:499px;font-size:14.7px;line-height:14.7px;color:#f2f2f6;-webkit-text-stroke:0.25px #f2f2f6;transform:scaleX(0.7424)">2.067.714,33</span>
<span class="t" style="left:697.66px;top:523px;font-size:14.7px;line-height:14.7px;color:#f2f2f6;-webkit-text-stroke:0.25px #f2f2f6;transform:scaleX(0.7381)">1.608.790,05</span>
<span class="t" style="left:696.66px;top:548px;font-size:14.7px;line-height:14.7px;color:#f2f2f6;-webkit-text-stroke:0.25px #f2f2f6;transform:scaleX(0.7417)">1.475.157,48</span>
<span class="t" style="left:696.66px;top:572px;font-size:14.7px;line-height:14.7px;color:#f2f2f6;-webkit-text-stroke:0.25px #f2f2f6;transform:scaleX(0.7357)">1.464.229,83</span>
<span class="t" style="left:1003.78px;top:401px;font-size:14.7px;line-height:14.7px;color:#9da2cc;-webkit-text-stroke:0.3px #35374c;transform:scaleX(0.7180)">FUNGICIDAS</span>
<span class="t" style="left:1031.39px;top:425px;font-size:14.7px;line-height:14.7px;color:#9da2cc;-webkit-text-stroke:0.3px #35374c;transform:scaleX(0.7118)">GRAOS</span>
<span class="t" style="left:992.72px;top:449px;font-size:14.7px;line-height:14.7px;color:#9da2cc;-webkit-text-stroke:0.3px #35374c;transform:scaleX(0.6757)">FERTILIZANTES</span>
<span class="t" style="left:1006.50px;top:473px;font-size:14.7px;line-height:14.7px;color:#9da2cc;-webkit-text-stroke:0.3px #35374c;transform:scaleX(0.6955)">HERBICIDAS</span>
<span class="t" style="left:1004.30px;top:498px;font-size:14.7px;line-height:14.7px;color:#9da2cc;-webkit-text-stroke:0.3px #35374c;transform:scaleX(0.6967)">INSETICIDAS</span>
<span class="t" style="left:1049.41px;top:522px;font-size:14.7px;line-height:14.7px;color:#9da2cc;-webkit-text-stroke:0.3px #35374c;transform:scaleX(0.7913)">N/E</span>
<span class="t" style="left:972.50px;top:546px;font-size:14.7px;line-height:14.7px;color:#9da2cc;-webkit-text-stroke:0.3px #35374c;transform:scaleX(0.6949)">ADUBOS FOLIARES</span>
<span class="t" style="left:950.30px;top:570px;font-size:14.7px;line-height:14.7px;color:#9da2cc;-webkit-text-stroke:0.3px #35374c;transform:scaleX(0.7158)">TS - TRATAMENTO SEM</span>
<span class="t" style="left:1229.00px;top:402px;font-size:14.7px;line-height:14.7px;color:#f2f2f6;-webkit-text-stroke:0.25px #f2f2f6;transform:scaleX(0.7340)">21.938.715,02</span>
<span class="t" style="left:1228.26px;top:426px;font-size:14.7px;line-height:14.7px;color:#f2f2f6;-webkit-text-stroke:0.25px #f2f2f6;transform:scaleX(0.7419)">19.969.616,72</span>
<span class="t" style="left:1204.66px;top:451px;font-size:14.7px;line-height:14.7px;color:#f2f2f6;-webkit-text-stroke:0.25px #f2f2f6;transform:scaleX(0.7376)">10.704.908,72</span>
<span class="t" style="left:1196.80px;top:475px;font-size:14.7px;line-height:14.7px;color:#f2f2f6;-webkit-text-stroke:0.25px #f2f2f6;transform:scaleX(0.7388)">9.255.407,75</span>
<span class="t" style="left:1172.40px;top:499px;font-size:14.7px;line-height:14.7px;color:#f2f2f6;-webkit-text-stroke:0.25px #f2f2f6;transform:scaleX(0.7329)">4.900.703,51</span>
<span class="t" style="left:1158.00px;top:523px;font-size:14.7px;line-height:14.7px;color:#f2f2f6;-webkit-text-stroke:0.25px #f2f2f6;transform:scaleX(0.7424)">2.349.535,58</span>
<span class="t" style="left:1154.55px;top:548px;font-size:14.7px;line-height:14.7px;color:#f2f2f6;-webkit-text-stroke:0.25px #f2f2f6;transform:scaleX(0.7488)">1.805.055,86</span>
<span class="t" style="left:1150.55px;top:572px;font-size:14.7px;line-height:14.7px;color:#f2f2f6;-webkit-text-stroke:0.25px #f2f2f6;transform:scaleX(0.7476)">1.107.620,08</span>
<span class="t" style="left:178.80px;top:696px;font-size:14.7px;line-height:14.7px;color:#9da2cc;-webkit-text-stroke:0.3px #35374c;transform:scaleX(0.7000)">AGRICOLA SOJA</span>
<span class="t" style="left:195.30px;top:720px;font-size:14.7px;line-height:14.7px;color:#9da2cc;-webkit-text-stroke:0.3px #35374c;transform:scaleX(0.7033)">FUNG BAYER</span>
<span class="t" style="left:206.52px;top:744px;font-size:14.7px;line-height:14.7px;color:#9da2cc;-webkit-text-stroke:0.3px #35374c;transform:scaleX(0.6772)">FERT YARA</span>
<span class="t" style="left:210.51px;top:768px;font-size:14.7px;line-height:14.7px;color:#9da2cc;-webkit-text-stroke:0.3px #35374c;transform:scaleX(0.6875)">HERB UPL</span>
<span class="t" style="left:207.40px;top:793px;font-size:14.7px;line-height:14.7px;color:#9da2cc;-webkit-text-stroke:0.3px #35374c;transform:scaleX(0.7013)">INS BAYER</span>
<span class="t" style="left:190.22px;top:817px;font-size:14.7px;line-height:14.7px;color:#9da2cc;-webkit-text-stroke:0.3px #35374c;transform:scaleX(0.6843)">FERT YARA BB</span>
<span class="t" style="left:182.80px;top:841px;font-size:14.7px;line-height:14.7px;color:#9da2cc;-webkit-text-stroke:0.3px #35374c;transform:scaleX(0.7213)">ADUBO FOLIAR</span>
<span class="t" style="left:166.27px;top:865px;font-size:14.7px;line-height:14.7px;color:#9da2cc;-webkit-text-stroke:0.3px #35374c;transform:scaleX(0.7320)">HERB MONSANTO</span>
<span class="t" style="left:420.76px;top:697px;font-size:14.7px;line-height:14.7px;color:#f2f2f6;-webkit-text-stroke:0.25px #f2f2f6;transform:scaleX(0.7409)">19.952.793,24</span>
<span class="t" style="left:420.76px;top:722px;font-size:14.7px;line-height:14.7px;color:#f2f2f6;-webkit-text-stroke:0.25px #f2f2f6;transform:scaleX(0.7409)">19.063.413,09</span>
<span class="t" style="left:376.50px;top:746px;font-size:14.7px;line-height:14.7px;color:#f2f2f6;-webkit-text-stroke:0.25px #f2f2f6;transform:scaleX(0.7447)">2.787.135,32</span>
<span class="t" style="left:372.30px;top:770px;font-size:14.7px;line-height:14.7px;color:#f2f2f6;-webkit-text-stroke:0.25px #f2f2f6;transform:scaleX(0.7291)">2.183.342,94</span>
<span class="t" style="left:372.30px;top:794px;font-size:14.7px;line-height:14.7px;color:#f2f2f6;-webkit-text-stroke:0.25px #f2f2f6;transform:scaleX(0.7376)">2.172.129,78</span>
<span class="t" style="left:370.16px;top:818px;font-size:14.7px;line-height:14.7px;color:#f2f2f6;-webkit-text-stroke:0.25px #f2f2f6;transform:scaleX(0.7429)">1.971.840,45</span>
<span class="t" style="left:368.45px;top:842px;font-size:14.7px;line-height:14.7px;color:#f2f2f6;-webkit-text-stroke:0.25px #f2f2f6;transform:scaleX(0.7464)">1.720.939,79</span>
<span class="t" style="left:366.76px;top:867px;font-size:14.7px;line-height:14.7px;color:#f2f2f6;-webkit-text-stroke:0.25px #f2f2f6;transform:scaleX(0.7440)">1.475.157,48</span>
<span class="t" style="left:543.63px;top:674px;font-size:14.7px;line-height:14.7px;color:#9da2cc;-webkit-text-stroke:0.3px #35374c;transform:scaleX(0.7724)">Compras</span>
<span class="t" style="left:606.00px;top:674px;font-size:14.7px;line-height:14.7px;color:#9da2cc;-webkit-text-stroke:0.3px #35374c;transform:scaleX(0.7388)">Vendas</span>
<span class="t" style="left:658.23px;top:674px;font-size:14.7px;line-height:14.7px;color:#9da2cc;-webkit-text-stroke:0.3px #35374c;transform:scaleX(0.7712)">Estoque</span>
<span class="t" style="left:613.50px;top:729px;font-size:14.7px;line-height:14.7px;color:#f2f2f6;-webkit-text-stroke:0.3px #f2f2f6;transform:scaleX(0.7722)">78 Mi</span>
<span class="t" style="left:732.20px;top:735px;font-size:14.7px;line-height:14.7px;color:#f2f2f6;-webkit-text-stroke:0.3px #f2f2f6;transform:scaleX(0.7722)">74 Mi</span>
<span class="t" style="left:850.90px;top:746px;font-size:14.7px;line-height:14.7px;color:#f2f2f6;-webkit-text-stroke:0.3px #f2f2f6;transform:scaleX(0.7722)">67 Mi</span>
<span class="t" style="left:969.70px;top:756px;font-size:14.7px;line-height:14.7px;color:#f2f2f6;-webkit-text-stroke:0.3px #f2f2f6;transform:scaleX(0.7722)">61 Mi</span>
<span class="t" style="left:1088.30px;top:743px;font-size:14.7px;line-height:14.7px;color:#f2f2f6;-webkit-text-stroke:0.3px #f2f2f6;transform:scaleX(0.7722)">69 Mi</span>
<span class="t" style="left:1207.00px;top:735px;font-size:14.7px;line-height:14.7px;color:#f2f2f6;-webkit-text-stroke:0.3px #f2f2f6;transform:scaleX(0.7722)">74 Mi</span>
<span class="t" style="left:591.85px;top:798px;font-size:14.7px;line-height:14.7px;color:#f2f2f6;-webkit-text-stroke:0.3px #f2f2f6;transform:scaleX(0.8259)">9 Mi</span>
<span class="t" style="left:634.71px;top:788px;font-size:14.7px;line-height:14.7px;color:#f2f2f6;-webkit-text-stroke:0.3px #f2f2f6;transform:scaleX(0.7943)">16 Mi</span>
<span class="t" style="left:707.31px;top:794px;font-size:14.7px;line-height:14.7px;color:#f2f2f6;-webkit-text-stroke:0.3px #f2f2f6;transform:scaleX(0.7943)">12 Mi</span>
<span class="t" style="left:754.10px;top:779px;font-size:14.7px;line-height:14.7px;color:#f2f2f6;-webkit-text-stroke:0.3px #f2f2f6;transform:scaleX(0.7722)">21 Mi</span>
<span class="t" style="left:825.91px;top:793px;font-size:14.7px;line-height:14.7px;color:#f2f2f6;-webkit-text-stroke:0.3px #f2f2f6;transform:scaleX(0.7943)">12 Mi</span>
<span class="t" style="left:872.31px;top:784px;font-size:14.7px;line-height:14.7px;color:#f2f2f6;-webkit-text-stroke:0.3px #f2f2f6;transform:scaleX(0.7943)">18 Mi</span>
<span class="t" style="left:944.71px;top:792px;font-size:14.7px;line-height:14.7px;color:#f2f2f6;-webkit-text-stroke:0.3px #f2f2f6;transform:scaleX(0.7943)">13 Mi</span>
<span class="t" style="left:994.05px;top:799px;font-size:14.7px;line-height:14.7px;color:#f2f2f6;-webkit-text-stroke:0.3px #f2f2f6;transform:scaleX(0.8259)">9 Mi</span>
<span class="t" style="left:1063.31px;top:789px;font-size:14.7px;line-height:14.7px;color:#f2f2f6;-webkit-text-stroke:0.3px #f2f2f6;transform:scaleX(0.7943)">15 Mi</span>
<span class="t" style="left:1109.71px;top:794px;font-size:14.7px;line-height:14.7px;color:#f2f2f6;-webkit-text-stroke:0.3px #f2f2f6;transform:scaleX(0.7943)">12 Mi</span>
<span class="t" style="left:1185.25px;top:808px;font-size:14.7px;line-height:14.7px;color:#f2f2f6;-webkit-text-stroke:0.3px #f2f2f6;transform:scaleX(0.8259)">3 Mi</span>
<span class="t" style="left:1231.35px;top:810px;font-size:14.7px;line-height:14.7px;color:#f2f2f6;-webkit-text-stroke:0.3px #f2f2f6;transform:scaleX(0.8259)">2 Mi</span>
<span class="t" style="left:616.90px;top:844px;font-size:14.7px;line-height:14.7px;color:#9da2cc;-webkit-text-stroke:0.3px #35374c;transform:scaleX(0.7500)">JAN</span>
<span class="t" style="left:736.43px;top:844px;font-size:14.7px;line-height:14.7px;color:#9da2cc;-webkit-text-stroke:0.3px #35374c;transform:scaleX(0.6667)">FEV</span>
<span class="t" style="left:851.76px;top:844px;font-size:14.7px;line-height:14.7px;color:#9da2cc;-webkit-text-stroke:0.3px #35374c;transform:scaleX(0.7903)">MAR</span>
<span class="t" style="left:973.10px;top:844px;font-size:14.7px;line-height:14.7px;color:#9da2cc;-webkit-text-stroke:0.3px #35374c;transform:scaleX(0.7241)">ABR</span>
<span class="t" style="left:1091.10px;top:844px;font-size:14.7px;line-height:14.7px;color:#9da2cc;-webkit-text-stroke:0.3px #35374c;transform:scaleX(0.8542)">MAI</span>
<span class="t" style="left:1210.16px;top:844px;font-size:14.7px;line-height:14.7px;color:#9da2cc;-webkit-text-stroke:0.3px #35374c;transform:scaleX(0.7407)">JUN</span>
<span class="t" style="left:910.83px;top:864px;font-size:14.7px;line-height:14.7px;color:#9da2cc;-webkit-text-stroke:0.3px #35374c;transform:scaleX(0.7742)">2021</span>
</body></html>
